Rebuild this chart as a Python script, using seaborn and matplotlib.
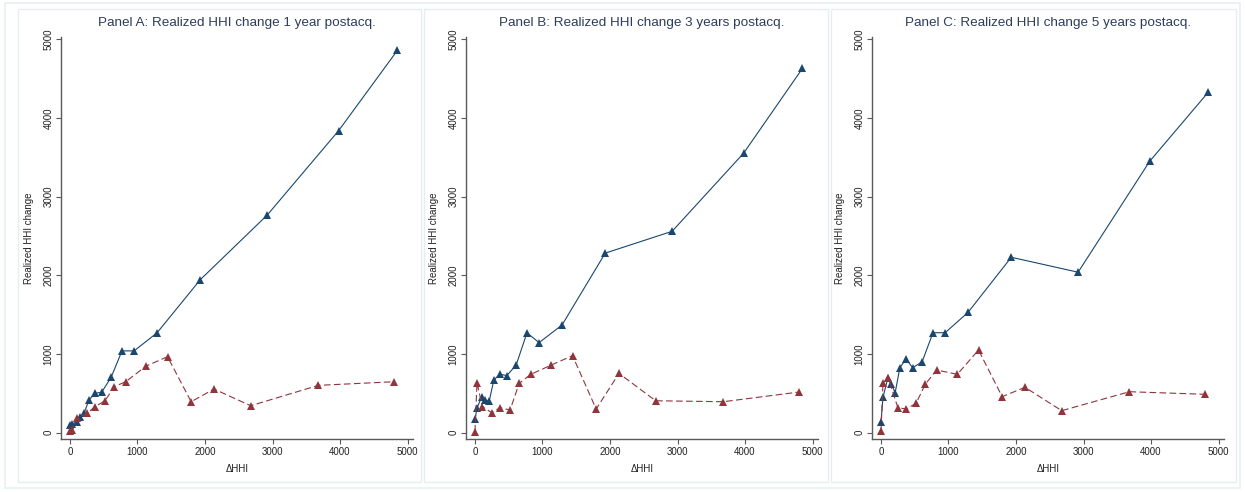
import numpy as np
import pandas as pd
import matplotlib
matplotlib.use("Agg")
import matplotlib.pyplot as plt
import matplotlib.patches as patches
import seaborn as sns

# ---- data ----
titles = ["Panel A: Realized HHI change 1 year postacq.",
          "Panel B: Realized HHI change 3 years postacq.",
          "Panel C: Realized HHI change 5 years postacq."]

blue_x = [0, 30, 100, 150, 210, 280, 370, 470, 610, 770, 950, 1290, 1930, 2920, 3980, 4850]
blue_a = [100, 110, 140, 200, 250, 415, 500, 515, 705, 1040, 1040, 1270, 1945, 2765, 3840, 4860]
blue_b = [170, 310, 460, 415, 400, 670, 745, 725, 860, 1270, 1145, 1370, 2283, 2560, 3554, 4630]
blue_c = [140, 450, 690, 620, 510, 826, 936, 826, 902, 1271, 1271, 1530, 2230, 2040, 3450, 4330]

red_x = [0, 30, 110, 250, 370, 520, 655, 825, 1130, 1445, 1795, 2133, 2677, 3680, 4800]
red_a = [20, 40, 190, 246, 330, 407, 585, 648, 848, 966, 394, 555, 343, 602, 648]
red_b = [13, 635, 330, 254, 318, 289, 627, 741, 860, 979, 301, 754, 406, 394, 517]
red_c = [17, 635, 691, 318, 301, 373, 615, 797, 742, 1051, 458, 577, 280, 521, 488]

blue_all = [blue_a, blue_b, blue_c]
red_all = [red_a, red_b, red_c]

x_ticks = [0, 1000, 2000, 3000, 4000, 5000]
y_ticks = [0, 1000, 2000, 3000, 4000, 5000]

BLUE = "#1a476f"
RED = "#90353b"
TITLE_C = "#2d3d5c"
AX_C = "#5a5a5a"

sns.set_theme(style="white")
plt.rcParams['font.family'] = ['Liberation Sans', 'DejaVu Sans']

W, H = 1245, 492
fig = plt.figure(figsize=(W / 100, H / 100), dpi=100)
fig.patch.set_facecolor("white")

def px_rect(x0, y0, x1, y1, **kw):
    r = patches.Rectangle((x0 / W, 1 - y1 / H), (x1 - x0) / W, (y1 - y0) / H,
                          transform=fig.transFigure, fill=False, **kw)
    fig.add_artist(r)

px_rect(5, 3, 1240, 488, edgecolor="#e8f0f1", linewidth=1.2)
panel_boxes = [(18, 9, 421, 482), (424, 9, 828, 482), (831, 9, 1236, 482)]
for b in panel_boxes:
    px_rect(*b, edgecolor="#e6eef0", linewidth=1.0)

axes_left_px = [61, 466, 872]
for i in range(3):
    l = axes_left_px[i]
    ax = fig.add_axes([l / W, 1 - 439 / H, 352 / W, (439 - 37) / H])
    df = pd.concat([
        pd.DataFrame({"dHHI": blue_x, "val": blue_all[i], "grp": "blue"}),
        pd.DataFrame({"dHHI": red_x, "val": red_all[i], "grp": "red"}),
    ], ignore_index=True)
    sns.lineplot(data=df, x="dHHI", y="val", hue="grp", style="grp",
                 palette={"blue": BLUE, "red": RED},
                 dashes={"blue": "", "red": (6, 3)},
                 markers={"blue": "^", "red": "^"},
                 markersize=6.2, markeredgewidth=0, linewidth=0.8,
                 sort=False, estimator=None, legend=False, ax=ax)
    ax.set_xlim(-133, 5081)
    ax.set_ylim(-80, 5030)
    ax.set_xticks(x_ticks)
    ax.set_yticks(y_ticks)
    ax.set_xticklabels([str(v) for v in x_ticks], fontsize=7, color="#222222")
    ax.set_yticklabels([str(v) for v in y_ticks], fontsize=7, color="#222222",
                       rotation=90, va="center")
    ax.tick_params(axis="both", direction="out", length=3.5, width=0.8,
                   color=AX_C, pad=2, left=True, bottom=True)
    for s in ["top", "right"]:
        ax.spines[s].set_visible(False)
    for s in ["left", "bottom"]:
        ax.spines[s].set_color(AX_C)
        ax.spines[s].set_linewidth(1.0)
    ax.set_xlabel("\u0394HHI", fontsize=7, color="#222222", labelpad=5)
    ax.set_ylabel("Realized HHI change", fontsize=7, color="#222222", labelpad=7)
    ax.set_title(titles[i], fontsize=9.7, color=TITLE_C, pad=8)
    ax.set_facecolor("white")

fig.savefig("out.png", dpi=100)
